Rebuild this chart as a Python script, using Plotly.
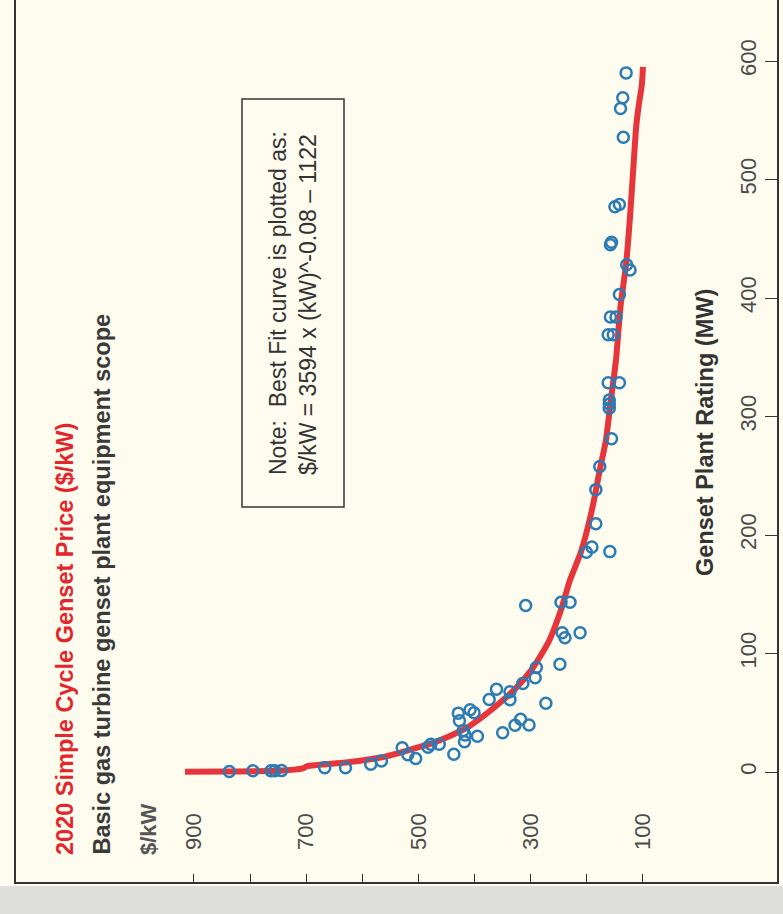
import plotly.graph_objects as go

# Genset rating (MW) and price ($/kW) for each surveyed simple-cycle unit
rating_mw = [0.5, 1, 1, 1, 1.2, 3.6, 3.6, 6.5, 9.3, 20.5, 14.5, 11.5, 21, 23.5, 23.4,
             15, 49.7, 43.2, 35, 31.2, 25.6, 52.5, 50, 30.2, 61.2, 69.8, 33.1, 67.8,
             61.1, 39.4, 44.6, 39.7, 74.8, 79.5, 88.2, 58, 91, 140.5, 117.6, 113.3,
             117.6, 143.2, 143.2, 185.4, 189.8, 186, 209.5, 238.3, 257.8, 281.2, 307,
             310.5, 314, 328.5, 328.5, 369, 369, 384, 384, 403, 428, 423.6, 447, 445,
             477, 479, 535.6, 560, 569, 590]
price_kw = [837, 795, 763, 756, 744, 667, 630, 585, 566, 529, 519, 505, 483, 478, 463,
            437, 429, 427, 420, 417, 418, 408, 401, 395, 374, 361, 350, 337,
            337, 328, 318, 303, 314, 292, 290, 273, 248, 309, 244, 239,
            212, 246, 230, 201, 191, 159, 184, 184, 177, 156, 160,
            160, 160, 162, 142, 162, 153, 158, 148, 142, 129, 123, 156, 158,
            150, 142, 135, 140, 136, 130]

# Best-fit curve as drawn
fit_mw = [0.2, 0.5, 1, 3, 5, 8, 12, 16, 20, 24, 30, 37, 47, 58, 71, 86, 100, 111,
          137, 162, 185, 207, 230, 255, 280, 311, 348, 393, 429, 469, 511, 545,
          561, 580, 595]
fit_price = [916, 836, 750, 706, 698, 630, 570, 535, 507, 478, 446, 415, 385, 356,
             326, 299, 280, 267, 246, 230, 211, 198, 187, 177, 166, 158, 148, 140,
             130, 123, 117, 112, 108, 102, 100]

price_ticks = [100, 200, 300, 400, 500, 600, 700, 800, 900]
price_ticktext = ["100", "", "300", "", "500", "", "700", "", "900"]
mw_ticks = [0, 100, 200, 300, 400, 500, 600]

FONT = "Liberation Sans, Arial, Helvetica, sans-serif"
W, H = 783, 914
ML, MR, MT, MB = 16, 6, 0, 32
PW, PH = W - ML - MR, H - MT - MB


def px(x):
    return (x - ML) / PW


def py(y):
    return (MT + PH - y) / PH


fig = go.Figure()

fig.add_trace(go.Scatter(
    x=fit_price, y=fit_mw, mode="lines",
    line=dict(color="#e6353b", width=6, shape="spline", smoothing=0.6),
    hoverinfo="skip", showlegend=False,
))
fig.add_trace(go.Scatter(
    x=price_kw, y=rating_mw, mode="markers",
    marker=dict(symbol="circle-open", size=11, color="#2b7bb4",
                line=dict(width=2.5, color="#2b7bb4")),
    showlegend=False,
))

fig.update_layout(
    width=W, height=H, autosize=False,
    margin=dict(l=ML, r=MR, t=MT, b=MB),
    paper_bgcolor="#fdfcee", plot_bgcolor="#fdfcee",
    font=dict(family=FONT, color="#4a4a4a"),
    xaxis=dict(
        range=[1217.1, -138.8], showgrid=False, zeroline=False,
        tickvals=price_ticks, ticktext=price_ticktext, tickangle=-90,
        ticks="inside", ticklen=8, tickwidth=1.2, tickcolor="#333",
        ticklabelposition="inside", ticklabelstandoff=18,
        tickfont=dict(size=22, color="#4a4a4a"),
        showline=True, linecolor="#333", linewidth=1.5,
    ),
    yaxis=dict(
        range=[-92.8, 651.5], side="right", showgrid=False, zeroline=False,
        tickvals=mw_ticks, tickangle=-90,
        ticks="inside", ticklen=12, tickwidth=1.2, tickcolor="#333",
        ticklabelposition="inside", ticklabelstandoff=6,
        tickfont=dict(size=22, color="#4a4a4a"),
        showline=True, linecolor="#333", linewidth=1.5, mirror=True,
    ),
    shapes=[
        dict(type="rect", xref="paper", yref="paper",
             x0=px(-5), x1=px(790), y0=py(920), y1=py(886),
             fillcolor="#dfdfdd", line=dict(width=0), layer="below"),
        dict(type="rect", xref="paper", yref="paper",
             x0=px(242), x1=px(344), y0=py(507), y1=py(99),
             fillcolor="rgba(0,0,0,0)", line=dict(color="#333", width=1.5)),
    ],
    annotations=[
        dict(text="<b>2020 Simple Cycle Genset Price ($/kW)</b>",
             xref="paper", yref="paper", x=px(65), y=py(857),
             xanchor="center", yanchor="bottom", textangle=-90, showarrow=False,
             font=dict(size=23.5, color="#e3262c", family=FONT)),
        dict(text="<b>Basic gas turbine genset plant equipment scope</b>",
             xref="paper", yref="paper", x=px(101), y=py(857),
             xanchor="center", yanchor="bottom", textangle=-90, showarrow=False,
             font=dict(size=23.5, color="#3a3a3a", family=FONT)),
        dict(text="<b>$/kW</b>",
             xref="paper", yref="paper", x=px(148), y=py(857),
             xanchor="center", yanchor="bottom", textangle=-90, showarrow=False,
             font=dict(size=22, color="#555555", family=FONT)),
        dict(text="<b>Genset Plant Rating (MW)</b>",
             xref="paper", yref="paper", x=px(705), y=py(433),
             xanchor="center", yanchor="middle", textangle=-90, showarrow=False,
             font=dict(size=23.5, color="#333333", family=FONT)),
        dict(text="Note:  Best Fit curve is plotted as:<br>"
                  "$/kW = 3594 x (kW)^-0.08 \u2013 1122",
             xref="paper", yref="paper", x=px(293), y=py(303),
             xanchor="center", yanchor="middle", textangle=-90, showarrow=False,
             align="left",
             font=dict(size=23, color="#333333", family=FONT)),
    ],
)

fig.write_html("out.html")
